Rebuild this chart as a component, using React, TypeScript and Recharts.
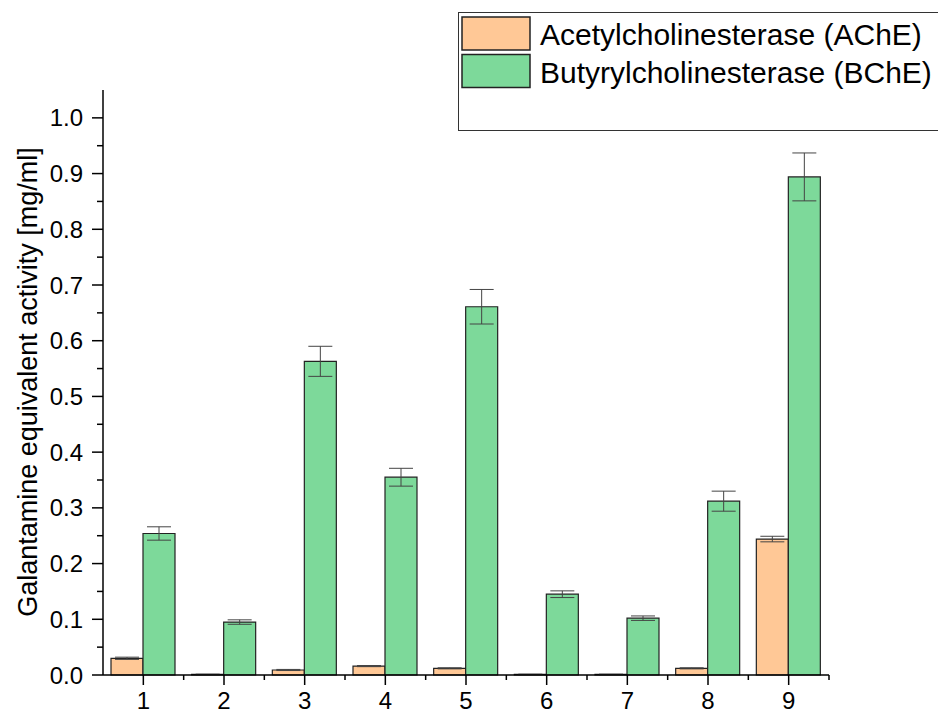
import { BarChart, Bar, XAxis, YAxis, ErrorBar, Legend } from "recharts";

const categories = ["1", "2", "3", "4", "5", "6", "7", "8", "9"];
const acheValues = [0.03, 0.001, 0.009, 0.016, 0.012, 0.001, 0.001, 0.012, 0.244];
const acheErrors = [0.002, 0.0005, 0.001, 0.001, 0.001, 0.0005, 0.0005, 0.001, 0.005];
const bcheValues = [0.254, 0.095, 0.563, 0.355, 0.661, 0.145, 0.102, 0.312, 0.894];
const bcheErrors = [0.012, 0.004, 0.027, 0.016, 0.031, 0.006, 0.004, 0.018, 0.043];
const yTicks = [0, 0.05, 0.1, 0.15, 0.2, 0.25, 0.3, 0.35, 0.4, 0.45, 0.5, 0.55, 0.6, 0.65, 0.7, 0.75, 0.8, 0.85, 0.9, 0.95, 1.0];
const legendItems = ["Acetylcholinesterase (AChE)", "Butyrylcholinesterase (BChE)"];

const ORANGE = "#FFC896";
const GREEN = "#7DD99A";
const FONT = "'Liberation Sans', Arial, sans-serif";

const data = categories.map((c, i) => ({
  name: c,
  ache: acheValues[i],
  acheErr: acheErrors[i],
  bche: bcheValues[i],
  bcheErr: bcheErrors[i],
}));

const XTick = (props: any) => {
  const { x, y, payload } = props;
  const band = 726 / 9;
  return (
    <g>
      <line x1={x} y1={y} x2={x} y2={y + 10} stroke="#000" strokeWidth={1.5} />
      <line x1={x + band / 2} y1={y} x2={x + band / 2} y2={y + 5} stroke="#000" strokeWidth={1.5} />
      <text x={x} y={y + 34} textAnchor="middle" fontSize={24} fontFamily={FONT} fill="#000">
        {payload.value}
      </text>
    </g>
  );
};

const YTick = (props: any) => {
  const { x, y, payload, index } = props;
  const major = index % 2 === 0;
  return (
    <g>
      <line x1={x - (major ? 11 : 6)} y1={y} x2={x} y2={y} stroke="#000" strokeWidth={1.5} />
      {major && (
        <text x={x - 20} y={y + 8.5} textAnchor="end" fontSize={24} fontFamily={FONT} fill="#000">
          {payload.value.toFixed(1)}
        </text>
      )}
    </g>
  );
};

const renderLegend = () => (
  <svg width={482} height={119} style={{ display: "block" }}>
    <rect x={0.5} y={0.5} width={490} height={118} fill="#fff" stroke="#333" strokeWidth={1} />
    {legendItems.map((label, i) => (
      <g key={label}>
        <rect
          x={4}
          y={5 + i * 37.5}
          width={68}
          height={33}
          fill={i === 0 ? ORANGE : GREEN}
          stroke="#222"
          strokeWidth={1.5}
        />
        <text x={82} y={33 + i * 38} fontSize={30} fontFamily={FONT} fill="#000">
          {label}
        </text>
      </g>
    ))}
  </svg>
);

export default function App() {
  return (
    <div style={{ position: "absolute", left: 0, top: 0, width: 938, height: 715, background: "#fff", overflow: "hidden" }}>
      <BarChart
        width={938}
        height={715}
        data={data}
        margin={{ top: 90, right: 109, bottom: 5, left: 0 }}
        barGap={0}
        barSize={32}
      >
        <XAxis
          dataKey="name"
          height={35}
          tickLine={false}
          tickSize={0}
          tickMargin={0}
          axisLine={{ stroke: "#000", strokeWidth: 1.5 }}
          tick={<XTick />}
          interval={0}
        />
        <YAxis
          width={103}
          domain={[0, 1.05]}
          ticks={yTicks}
          interval={0}
          tickLine={false}
          tickSize={0}
          tickMargin={0}
          axisLine={{ stroke: "#000", strokeWidth: 1.5 }}
          tick={<YTick />}
          label={{
            content: () => (
              <text
                x={37}
                y={382}
                transform="rotate(-90 37 382)"
                textAnchor="middle"
                fontSize={27}
                fontFamily={FONT}
                fill="#000"
              >
                Galantamine equivalent activity [mg/ml]
              </text>
            ),
          }}
        />
        <Legend
          layout="vertical"
          align="center"
          verticalAlign="middle"
          content={renderLegend}
          wrapperStyle={{ left: 458, top: 12, width: 482 }}
        />
        <Bar dataKey="ache" fill={ORANGE} stroke="#222" strokeWidth={1.2} isAnimationActive={false}>
          <ErrorBar dataKey="acheErr" width={12} stroke="#444" strokeWidth={1} />
        </Bar>
        <Bar dataKey="bche" fill={GREEN} stroke="#222" strokeWidth={1.2} isAnimationActive={false}>
          <ErrorBar dataKey="bcheErr" width={12} stroke="#444" strokeWidth={1} />
        </Bar>
      </BarChart>
    </div>
  );
}
